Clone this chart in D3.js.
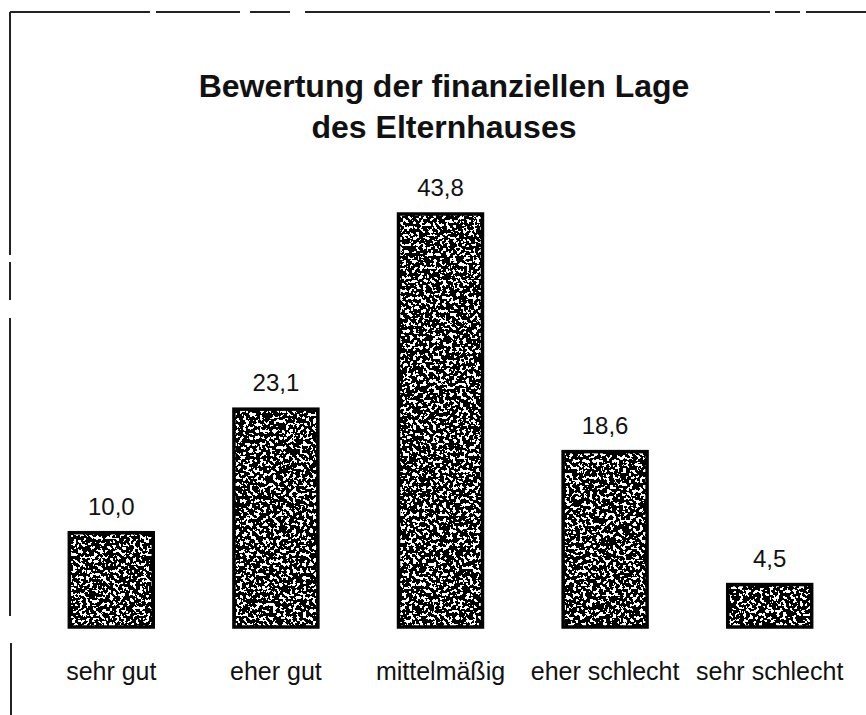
<!DOCTYPE html>
<html>
<head>
<meta charset="utf-8">
<script src="https://cdn.jsdelivr.net/npm/d3@7"></script>
<style>
  html, body { margin: 0; padding: 0; background: #fff; }
  svg { display: block; }
  text { font-family: "Liberation Sans", Arial, sans-serif; fill: #111; }
</style>
</head>
<body>
<svg id="chart" width="866" height="715"></svg>
<script>
// Bewertung der finanziellen Lage des Elternhauses (Anteile in %)
const categories = ["sehr gut", "eher gut", "mittelmäßig", "eher schlecht", "sehr schlecht"];
const values = [10.0, 23.1, 43.8, 18.6, 4.5];
const titleLines = ["Bewertung der finanziellen Lage", "des Elternhauses"];

const fmt = v => d3.format(".1f")(v).replace(".", ",");

const svg = d3.select("#chart");
const W = 866, H = 715;

svg.append("rect").attr("width", W).attr("height", H).attr("fill", "#fff");

// stippled fill for the bars: thresholded noise clipped to the bar shape
const defs = svg.append("defs");
const f = defs.append("filter").attr("id", "stipple")
  .attr("x", 0).attr("y", 0).attr("width", 1).attr("height", 1)
  .attr("filterUnits", "objectBoundingBox");
f.append("feTurbulence").attr("type", "fractalNoise")
  .attr("baseFrequency", 0.3).attr("numOctaves", 2).attr("seed", 7).attr("result", "noise");
f.append("feColorMatrix").attr("in", "noise").attr("type", "matrix")
  .attr("values", "0 0 0 0 0  0 0 0 0 0  0 0 0 0 0  1.6 0 0 0 -0.22").attr("result", "a");
const ct = f.append("feComponentTransfer").attr("in", "a").attr("result", "bw");
ct.append("feFuncA").attr("type", "discrete").attr("tableValues", "0 1");
f.append("feComposite").attr("in", "bw").attr("in2", "SourceGraphic").attr("operator", "in");

// frame (left and top edges)
const frame = svg.append("g").attr("stroke", "#222").attr("stroke-width", 2).attr("fill", "none");
[[10, 12, 10, 255], [10, 262, 10, 300], [10, 318, 10, 616], [11, 643, 11, 715]].forEach(s =>
  frame.append("line").attr("x1", s[0]).attr("y1", s[1]).attr("x2", s[2]).attr("y2", s[3]));
[[10, 12, 150], [156, 12, 240], [250, 12, 290], [305, 12, 770], [775, 12, 800], [806, 12, 866]].forEach(s =>
  frame.append("line").attr("x1", s[0]).attr("y1", s[1]).attr("x2", s[2]).attr("y2", s[1]));

// title
svg.append("g").selectAll("text").data(titleLines).join("text")
  .attr("x", 444).attr("y", (d, i) => 97 + i * 41)
  .attr("text-anchor", "middle")
  .attr("font-size", 32).attr("font-weight", "bold")
  .text(d => d);

// scales
const x = d3.scaleBand().domain(categories).range([29, 852])
  .paddingInner(0.49).paddingOuter(0.245);
const y = d3.scaleLinear().domain([0, d3.max(values)]).range([627, 214]);

const data = categories.map((c, i) => ({ c, v: values[i] }));

const bars = svg.append("g");
// white base, noise layer, black outline
bars.selectAll("rect.base").data(data).join("rect").attr("class", "base")
  .attr("x", d => x(d.c)).attr("y", d => y(d.v))
  .attr("width", x.bandwidth()).attr("height", d => y(0) - y(d.v))
  .attr("fill", "#fff");
bars.selectAll("rect.dots").data(data).join("rect").attr("class", "dots")
  .attr("x", d => x(d.c)).attr("y", d => y(d.v))
  .attr("width", x.bandwidth()).attr("height", d => y(0) - y(d.v))
  .attr("fill", "#000").attr("filter", "url(#stipple)");
bars.selectAll("rect.edge").data(data).join("rect").attr("class", "edge")
  .attr("x", d => x(d.c)).attr("y", d => y(d.v))
  .attr("width", x.bandwidth()).attr("height", d => y(0) - y(d.v))
  .attr("fill", "none").attr("stroke", "#000").attr("stroke-width", 3.5);

// value labels
svg.append("g").selectAll("text").data(data).join("text")
  .attr("x", d => x(d.c) + x.bandwidth() / 2)
  .attr("y", d => y(d.v) - 18)
  .attr("text-anchor", "middle").attr("font-size", 24)
  .text(d => fmt(d.v));

// category axis
const axis = svg.append("g").attr("transform", `translate(0,${y(0)})`)
  .call(d3.axisBottom(x).tickSize(0).tickPadding(35));
axis.select(".domain").remove();
axis.selectAll("text").attr("font-size", 25)
  .attr("font-family", "'Liberation Sans', Arial, sans-serif").attr("fill", "#111");
</script>
</body>
</html>
